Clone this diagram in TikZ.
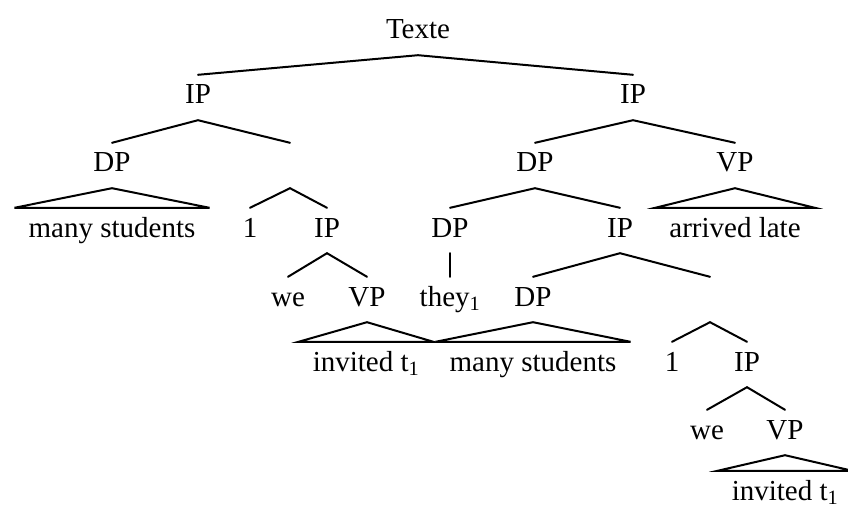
\documentclass[tikz,border=0pt]{standalone}
\usepackage{fontspec}
\setmainfont{Liberation Serif}
\tikzstyle{cat} = [anchor=base, inner xsep=2pt, inner ysep=10pt, text height=19pt, text depth=6pt]
\tikzstyle{leaf} = [cat, inner xsep=14pt]
\tikzstyle{branch} = [line width=2pt, line cap=round]
\tikzstyle{roof} = [line width=2pt, line join=miter]

\begin{document}
\begin{tikzpicture}[x=1pt, y=-1pt, font=\fontsize{29}{34}\selectfont]
    \useasboundingbox (0,0) rectangle (848,505);

    % Root
    \node[cat] (texte) at (418,39) {Texte};

    % Left IP: many students 1 we invited t1
    \node[cat] (ipL) at (198,104) {IP};
    \node[cat] (dpL) at (112,172) {DP};
    \node[cat] (barL) at (290,172) {};
    \node[leaf] (msL) at (112,237) {many students};
    \node[cat] (oneL) at (250,237) {1};
    \node[cat] (ipL2) at (327,237) {IP};
    \node[cat] (weL) at (288,306) {we};
    \node[cat] (vpL) at (367,306) {VP};
    \node[leaf] (invL) at (366,371) {invited t\textsubscript{1}};

    % Right IP: they1 many students ... arrived late
    \node[cat] (ipR) at (633,104) {IP};
    \node[cat] (dpR) at (535,172) {DP};
    \node[cat] (vpR) at (735,172) {VP};
    \node[cat] (dpR2) at (450,237) {DP};
    \node[cat] (ipR2) at (620,237) {IP};
    \node[leaf] (late) at (735,237) {arrived late};
    \node[cat] (they) at (450,306) {they\textsubscript{1}};
    \node[cat] (dpR3) at (533,306) {DP};
    \node[cat] (barR) at (710,306) {};
    \node[leaf] (msR) at (533,371) {many students};
    \node[cat] (oneR) at (672,371) {1};
    \node[cat] (ipR3) at (747,371) {IP};
    \node[cat] (weR) at (707,439) {we};
    \node[cat] (vpR2) at (785,439) {VP};
    \node[leaf] (invR) at (785,500) {invited t\textsubscript{1}};

    % Branches
    \draw[branch] (ipL.north) -- (texte.south) -- (ipR.north);
    \draw[branch] (dpL.north) -- (ipL.south) -- (barL.north);
    \draw[branch] (oneL.north) -- (barL.south) -- (ipL2.north);
    \draw[branch] (weL.north) -- (ipL2.south) -- (vpL.north);
    \draw[branch] (dpR.north) -- (ipR.south) -- (vpR.north);
    \draw[branch] (dpR2.north) -- (dpR.south) -- (ipR2.north);
    \draw[branch] (dpR2.south) -- (they.north);
    \draw[branch] (dpR3.north) -- (ipR2.south) -- (barR.north);
    \draw[branch] (oneR.north) -- (barR.south) -- (ipR3.north);
    \draw[branch] (weR.north) -- (ipR3.south) -- (vpR2.north);

    % Roofs
    \draw[roof] (dpL.south) -- (msL.north west) -- (msL.north east) -- cycle;
    \draw[roof] (vpL.south) -- (invL.north west) -- (invL.north east) -- cycle;
    \draw[roof] (vpR.south) -- (late.north west) -- (late.north east) -- cycle;
    \draw[roof] (dpR3.south) -- (msR.north west) -- (msR.north east) -- cycle;
    \draw[roof] (vpR2.south) -- (invR.north west) -- (invR.north east) -- cycle;
\end{tikzpicture}
\end{document}
